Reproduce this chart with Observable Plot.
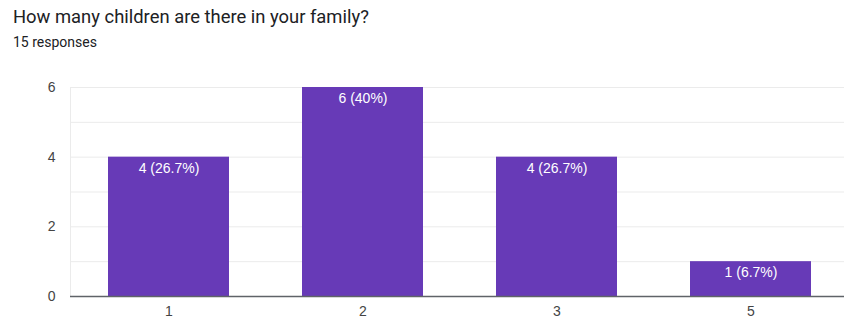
<!DOCTYPE html>
<html>
<head>
<meta charset="utf-8">
<script src="https://cdn.jsdelivr.net/npm/d3@7"></script>
<script src="https://cdn.jsdelivr.net/npm/@observablehq/plot@0.6"></script>
<style>
  body { margin: 0; background: #fff; font-family: Roboto, "Noto Sans", sans-serif; overflow: hidden; }
  #header { position: relative; height: 60px; }
  #title { position: absolute; left: 13px; top: 6px; font-size: 18.4px; color: #202124; white-space: nowrap; }
  #sub { position: absolute; left: 13px; top: 34px; font-size: 14px; color: #202124; white-space: nowrap; }
  #chart svg { display: block; }
</style>
</head>
<body>
<div id="header">
  <div id="title">How many children are there in your family?</div>
  <div id="sub">15 responses</div>
</div>
<div id="chart"></div>
<script>
const categories = ["1", "2", "3", "5"];
const counts = [4, 6, 4, 1];
const total = 15;
const yTicks = [0, 2, 4, 6];
const gridValues = [1, 2, 3, 4, 5, 6];

const data = categories.map((c, i) => ({
  cat: c,
  n: counts[i],
  label: `${counts[i]} (${+(counts[i] / total * 100).toFixed(1)}%)`
}));

const chart = Plot.plot({
  width: 844,
  height: 260,
  marginLeft: 70,
  marginRight: -5,
  marginTop: 27,
  marginBottom: 24,
  style: { fontFamily: "Arial, 'Liberation Sans', sans-serif", fontSize: "14px", color: "#444", overflow: "hidden" },
  x: { domain: categories, paddingInner: 0.377, paddingOuter: 0.195, label: null, tickSize: 0, tickPadding: 10 },
  y: { domain: [0, 6], ticks: yTicks, tickFormat: "d", label: null, tickSize: 0, tickPadding: 15 },
  marks: [
    Plot.ruleY(gridValues, { stroke: "#ebebeb", strokeWidth: 1 }),
    Plot.frame({ anchor: "left", stroke: "#ebebeb" }),
    Plot.barY(data, { x: "cat", y: "n", fill: "#673ab7" }),
    Plot.text(data, { x: "cat", y: "n", text: "label", fill: "white", dy: 11, fontSize: 14 }),
    Plot.ruleY([0], { stroke: "#5f6368", strokeWidth: 1.3 })
  ]
});
document.getElementById("chart").appendChild(chart);
</script>
</body>
</html>
